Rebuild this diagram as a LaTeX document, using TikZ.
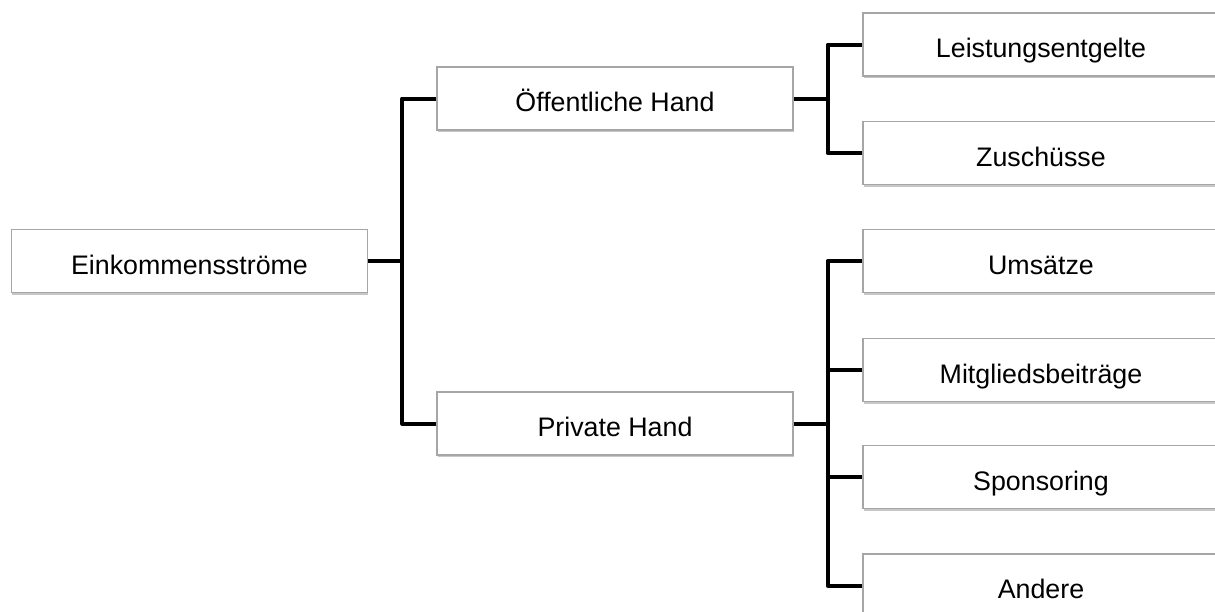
\documentclass[tikz,border=0pt]{standalone}
\usepackage{fontspec}
\setmainfont{Liberation Sans}
\usepackage{tikz}
\usetikzlibrary{shadows}
\tikzstyle{box}=[draw=gray!70,line width=.6pt,fill=white,minimum width=178pt,minimum height=31.5pt,inner sep=0pt,text height=14pt,text depth=1pt,font=\fontsize{13.4}{16}\selectfont,drop shadow={shadow xshift=.3pt,shadow yshift=-1.2pt,fill=black,opacity=.22}]
\tikzstyle{link}=[line width=2pt,line join=round]

\begin{document}
\begin{tikzpicture}[x=.5pt,y=-.5pt]
	\clip (0,0) rectangle (1215,611);
	\node[box] (ein)  at (189.5,261)  {Einkommensströme};
	\node[box] (oeff) at (615,98.5)   {Öffentliche Hand};
	\node[box] (priv) at (615,423.5)  {Private Hand};
	\node[box] (leis) at (1041,44.5)  {Leistungsentgelte};
	\node[box] (zus)  at (1041,153)   {Zuschüsse};
	\node[box] (ums)  at (1041,261)   {Umsätze};
	\node[box] (mit)  at (1041,370)   {Mitgliedsbeiträge};
	\node[box] (spo)  at (1041,477)   {Sponsoring};
	\node[box] (and)  at (1041,585.5) {Andere};
	\draw[link] (ein.east) -- ++(34,0) coordinate (t0) |- (oeff.west);
	\draw[link] (t0) |- (priv.west);
	\draw[link] (oeff.east) -- ++(34,0) coordinate (t1) |- (leis.west);
	\draw[link] (t1) |- (zus.west);
	\draw[link] (priv.east) -- ++(34,0) coordinate (t2) |- (ums.west);
	\draw[link] (t2) |- (mit.west);
	\draw[link] (t2) |- (spo.west);
	\draw[link] (t2) |- (and.west);
\end{tikzpicture}
\end{document}
